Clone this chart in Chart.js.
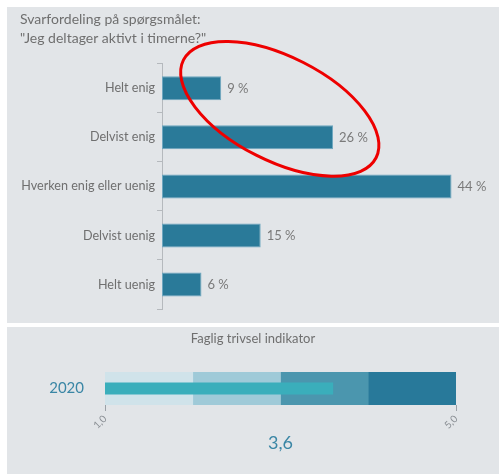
<!DOCTYPE html>
<html>
<head>
<meta charset="utf-8">
<script src="https://cdn.jsdelivr.net/npm/chart.js@4.4.0/dist/chart.umd.min.js"></script>
<style>
  body { margin: 0; background: #fff; width: 499px; height: 474px; position: relative; overflow: hidden; }
  .panel { position: absolute; left: 7px; width: 492px; background: #e2e5e8; }
  #topPanel { top: 7px; height: 316px; }
  #bottomPanel { top: 327px; height: 147px; }
  #indicatorTitle {
    position: absolute; left: 0; top: 3px; width: 492px; text-align: center;
    font: 13px Lato, 'Open Sans', sans-serif; color: #6f6f6f;
  }
  canvas { position: absolute; left: 0; top: 0; }
</style>
</head>
<body>
<div class="panel" id="topPanel"><canvas id="answersChart" width="492" height="316"></canvas></div>
<div class="panel" id="bottomPanel">
  <canvas id="indicatorChart" width="492" height="147"></canvas>
  <div id="indicatorTitle">Faglig trivsel indikator</div>
</div>
<script>
// Data
const answerCategories = ["Helt enig", "Delvist enig", "Hverken enig eller uenig", "Delvist uenig", "Helt uenig"];
const answerPercents = [9, 26, 44, 15, 6];

const indicatorYear = ["2020"];
const indicatorBands = [[1, 2], [2, 3], [3, 4], [4, 5]];
const indicatorValue = 3.6;
const indicatorTicks = [1, 5];

const fontFamily = "Lato, 'Open Sans', sans-serif";
const greyText = "#6f6f6f";
const blueText = "#3a86a5";

const formatComma = function(value) {
  return value.toFixed(1).replace(".", ",");
};

// Value labels after each bar
const valueLabels = {
  id: 'valueLabels',
  afterDatasetsDraw(chart) {
    const ctx = chart.ctx;
    const meta = chart.getDatasetMeta(0);
    ctx.save();
    ctx.font = "13px " + fontFamily;
    ctx.fillStyle = "#7a7a7a";
    ctx.textAlign = "left";
    ctx.textBaseline = "middle";
    meta.data.forEach(function(bar, i) {
      ctx.fillText(answerPercents[i] + " %", bar.x + 6, bar.y);
    });
    ctx.restore();
  }
};

// Red highlight ellipse round the first two answers
const highlightEllipse = {
  id: 'highlightEllipse',
  afterDraw(chart) {
    const ctx = chart.ctx;
    const x = chart.scales.x;
    const y = chart.scales.y;
    const cx = x.getPixelForValue(17.9);
    const cy = (y.getPixelForValue(0) + y.getPixelForValue(1)) / 2 - 4;
    ctx.save();
    ctx.strokeStyle = "#ee0000";
    ctx.lineWidth = 3;
    ctx.beginPath();
    ctx.ellipse(cx, cy, 108, 52, 0.47, 0, Math.PI * 2);
    ctx.stroke();
    ctx.restore();
  }
};

let containerAnswersChart = document.querySelector("#answersChart").getContext('2d');
let answersChart = new Chart(containerAnswersChart, {
  type: 'bar',
  data: {
    labels: answerCategories,
    datasets: [{
      data: answerPercents,
      backgroundColor: "#2a7a99",
      borderColor: "#6da6bf",
      borderWidth: 1,
      borderSkipped: false,
      barPercentage: 0.49,
      categoryPercentage: 1
    }]
  },
  options: {
    indexAxis: 'y',
    responsive: false,
    animation: false,
    layout: { padding: { left: 13, right: 8, top: 3, bottom: 14 } },
    plugins: {
      legend: { display: false },
      tooltip: { enabled: false },
      title: {
        display: true,
        align: 'start',
        text: ["Svarfordeling på spørgsmålet:", "\"Jeg deltager aktivt i timerne?\""],
        color: greyText,
        font: { family: fontFamily, size: 14, weight: 'normal', lineHeight: 1.35 },
        padding: { top: 0, bottom: 16 }
      }
    },
    scales: {
      x: { display: false, min: 0, max: 50 },
      y: {
        afterFit: function(scale) { scale.width = 142; },
        grid: { display: true, drawOnChartArea: false, tickLength: 5, color: "#b5b9bd" },
        border: { display: true, color: "#b5b9bd" },
        ticks: { color: greyText, padding: 2, font: { family: fontFamily, size: 12.6 } }
      }
    }
  },
  plugins: [valueLabels, highlightEllipse]
});

// Bullet chart
const bandColors = ["#d0e3ea", "#9fcad8", "#4b96ae", "#28799a"];
let bandDatasets = indicatorBands.map(function(band, i) {
  return {
    data: [band],
    backgroundColor: bandColors[i],
    barPercentage: 1,
    categoryPercentage: 1,
    grouped: false,
    order: 2
  };
});
bandDatasets.push({
  data: [[indicatorBands[0][0], indicatorValue]],
  backgroundColor: "#3aaebb",
  barPercentage: 0.36,
  categoryPercentage: 1,
  grouped: false,
  order: 1
});

// Big value text under the bullet
const valueText = {
  id: 'valueText',
  afterDraw(chart) {
    const ctx = chart.ctx;
    const area = chart.chartArea;
    ctx.save();
    ctx.font = "18px " + fontFamily;
    ctx.fillStyle = blueText;
    ctx.textAlign = "center";
    ctx.textBaseline = "middle";
    ctx.fillText(formatComma(indicatorValue), (area.left + area.right) / 2, area.bottom + 38);
    ctx.restore();
  }
};

let containerIndicatorChart = document.querySelector("#indicatorChart").getContext('2d');
let indicatorChart = new Chart(containerIndicatorChart, {
  type: 'bar',
  data: { labels: indicatorYear, datasets: bandDatasets },
  options: {
    indexAxis: 'y',
    responsive: false,
    animation: false,
    layout: { padding: { left: 0, right: 43, top: 45, bottom: 39 } },
    plugins: {
      legend: { display: false },
      tooltip: { enabled: false }
    },
    scales: {
      x: {
        min: indicatorTicks[0],
        max: indicatorTicks[1],
        afterBuildTicks: function(scale) {
          scale.ticks = indicatorTicks.map(function(v) { return { value: v }; });
        },
        afterFit: function(scale) { scale.height = 30; },
        grid: { display: true, drawOnChartArea: false, tickLength: 6, color: "#9aa0a6" },
        border: { display: false },
        ticks: {
          color: "#8a8f94",
          minRotation: 45,
          maxRotation: 45,
          padding: 2,
          font: { family: fontFamily, size: 10 },
          callback: function(value) { return formatComma(value); }
        }
      },
      y: {
        afterFit: function(scale) { scale.width = 98; },
        grid: { display: false, drawTicks: false },
        border: { display: false },
        ticks: { color: blueText, padding: 21, font: { family: fontFamily, size: 15 } }
      }
    }
  },
  plugins: [valueText]
});
</script>
</body>
</html>
